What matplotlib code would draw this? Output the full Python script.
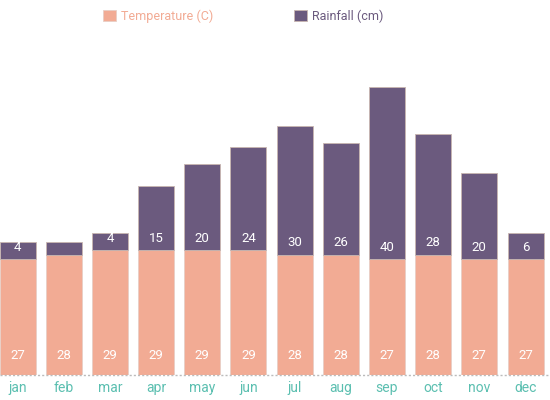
import matplotlib
import numpy as np

matplotlib.use("Agg")
import matplotlib.pyplot as plt

plt.rcParams["font.family"] = ["Roboto", "DejaVu Sans"]

months = ["jan", "feb", "mar", "apr", "may", "jun", "jul", "aug", "sep", "oct", "nov", "dec"]
temperature = [27, 28, 29, 29, 29, 29, 28, 28, 27, 28, 27, 27]
rainfall = [4, 3, 4, 15, 20, 24, 30, 26, 40, 28, 20, 6]

TEMP_COLOR = "#f2ab94"
RAIN_COLOR = "#6b5a7e"
TICK_COLOR = "#5bbfb0"

fig = plt.figure(figsize=(5.5, 4), dpi=100)
ax = fig.add_axes([0, 25 / 400, 1, 335 / 400])

x = np.arange(len(months))
width = 0.78
temp_bars = ax.bar(x, temperature, width, color=TEMP_COLOR, edgecolor="#e8cfc6",
                   linewidth=0.6, label="Temperature (C)")
rain_bars = ax.bar(x, rainfall, width, bottom=temperature, color=RAIN_COLOR,
                   edgecolor="#c9b6b0", linewidth=0.6, label="Rainfall (cm)")

ax.set_xlim(-0.38, 11.53)
ax.set_ylim(0, 77.9)

for xi, t, r in zip(x, temperature, rainfall):
    ax.annotate(str(t), (xi, 0), xytext=(0, 14), textcoords="offset points",
                ha="center", va="center", color="white", fontsize=9.5)
    # too short a segment for a label
    if r >= 4:
        ax.annotate(str(r), (xi, t), xytext=(0, 8.5), textcoords="offset points",
                    ha="center", va="center", color="white", fontsize=9.5)

ax.axhline(0, color="#bbbbbb", linewidth=1, linestyle=(0, (1.5, 1.5)), clip_on=False)

for side in ["top", "right", "left", "bottom"]:
    ax.spines[side].set_visible(False)
ax.set_yticks([])
ax.set_xticks(x)
ax.set_xticklabels(months, color=TICK_COLOR, fontsize=10)
ax.tick_params(axis="x", length=0, pad=4)

fig.legend(
    handles=[temp_bars, rain_bars],
    labels=["Temperature (C)", "Rainfall (cm)"],
    loc="center",
    bbox_to_anchor=(0.442, 1 - 16 / 400),
    ncol=2,
    frameon=False,
    fontsize=9,
    labelcolor=[TEMP_COLOR, RAIN_COLOR],
    handlelength=1.0,
    handleheight=1.0,
    handletextpad=0.4,
    columnspacing=6.5,
)

fig.savefig("out.png", dpi=100)
